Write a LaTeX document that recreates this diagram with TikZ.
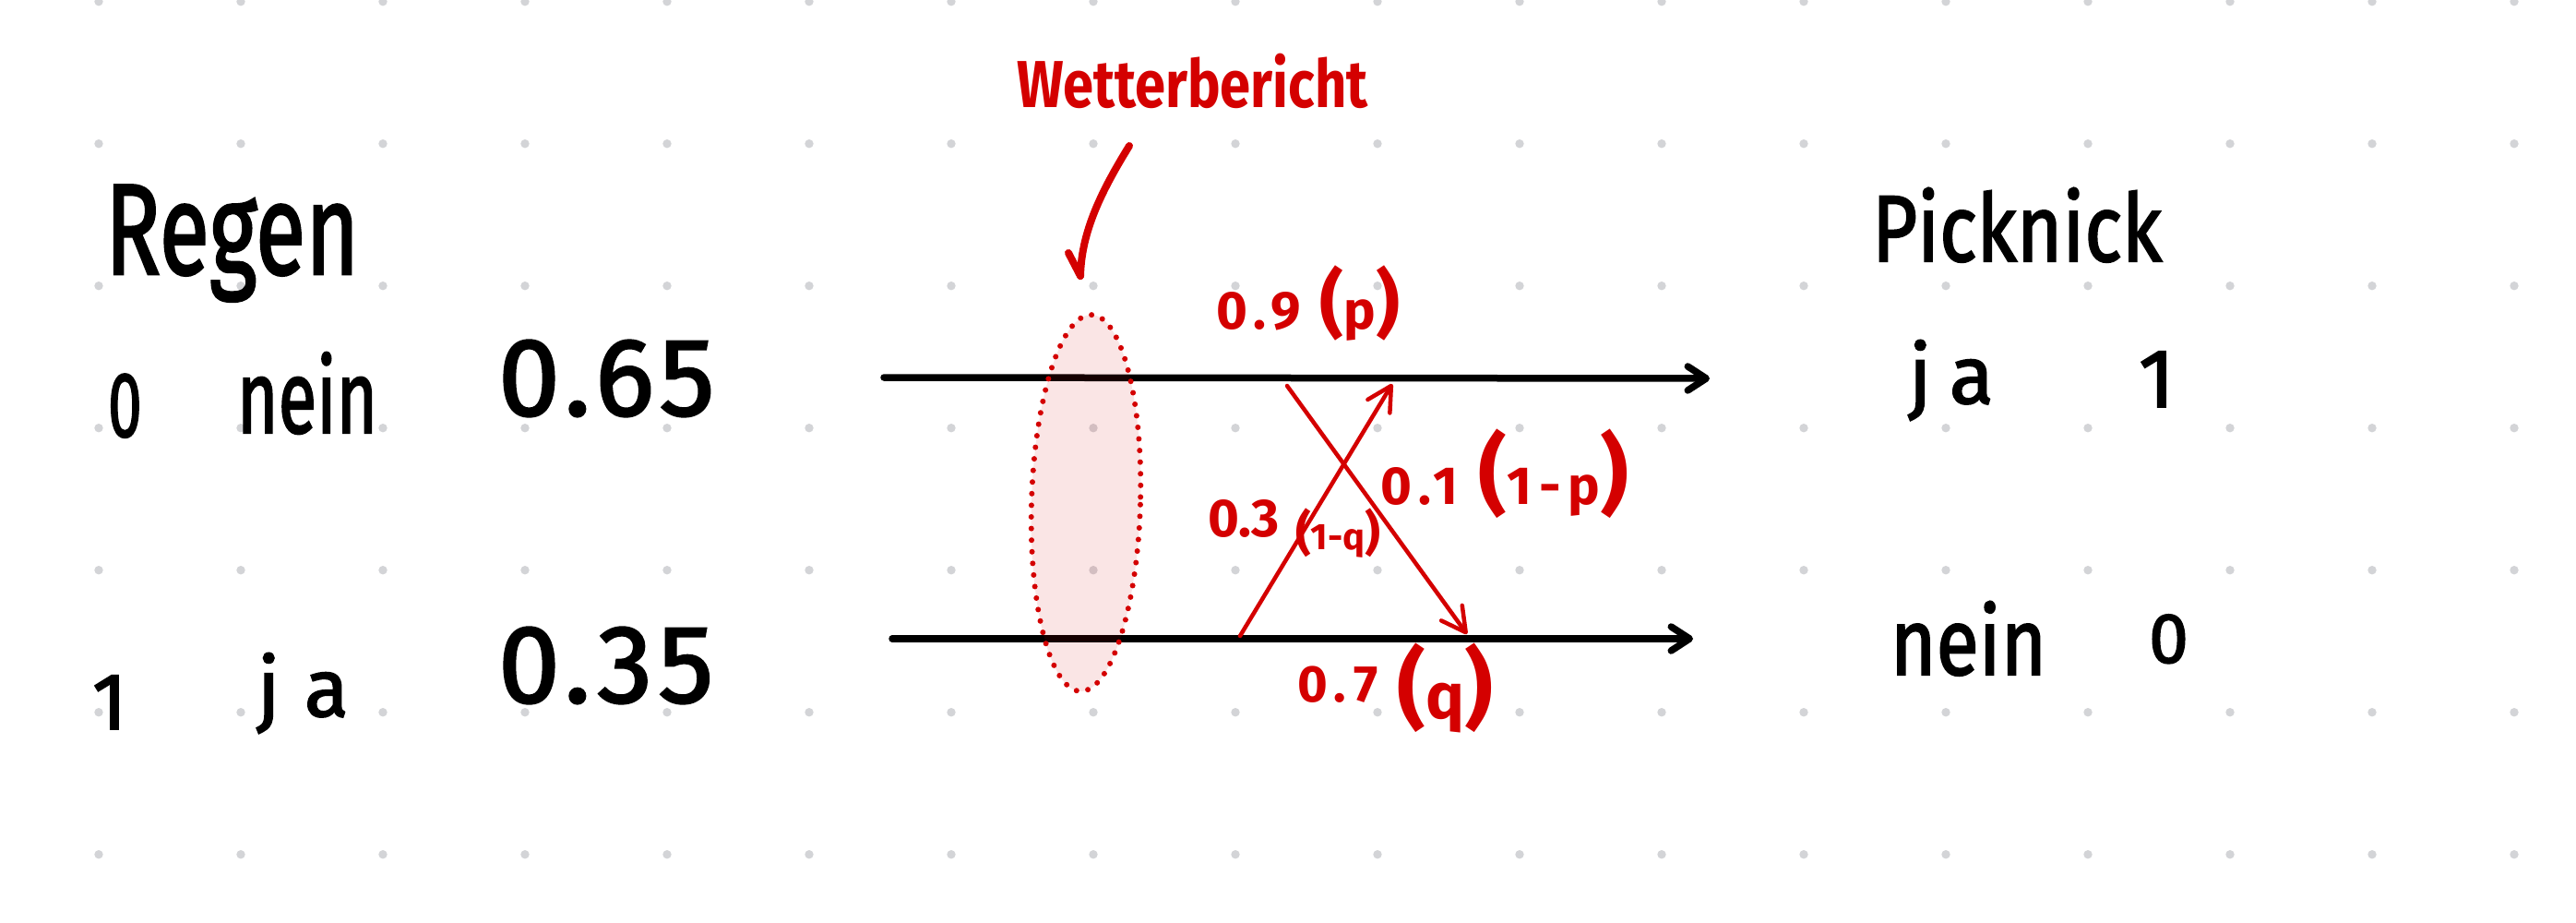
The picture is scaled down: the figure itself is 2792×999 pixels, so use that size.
\documentclass[tikz,border=0pt]{standalone}
\usepackage{fontspec}
\setmainfont{Fira Sans}
\newfontfamily\hand{Fira Sans}[FakeBold=2]
\usepackage{graphicx}
\usetikzlibrary{arrows.meta}
\definecolor{mred}{RGB}{212,0,0}
\definecolor{dotgray}{RGB}{211,212,215}
\newcommand\fsz[1]{\fontsize{#1}{#1}\selectfont}
\newcommand\lsp[1]{\addfontfeature{LetterSpace=#1}}
\newcommand\bigpar[2]{{\fsz{#1}#2}}
\begin{document}
\begin{tikzpicture}[x=1pt,y=-1pt,
  hw/.style={inner sep=0pt, outer sep=0pt, anchor=base west},
  blk/.style={hw, text=black},
  rd/.style={hw, text=mred},
  flow/.style={line width=7.5pt, line cap=round, -{Straight Barb[length=20pt,width=26pt,round]}},
  redarrow/.style={draw=mred, line width=4.5pt, line cap=round, -{Straight Barb[length=26pt,width=28pt,round]}},
  redstroke/.style={draw=mred, line width=8pt, line cap=round, line join=round},
  ovalstyle/.style={draw=mred, fill=mred, fill opacity=0.1, line width=6pt, dash pattern=on 0pt off 12.6pt, line cap=round},
]
\fill[white] (0,0) rectangle (2792,999);
\useasboundingbox (0,0) rectangle (2792,999);
% dot grid
\foreach \i in {0,...,17} \foreach \j in {0,...,6}
  \fill[dotgray] ({107+154*\i},{1.7+154*\j}) circle[radius=4.7];

% black flow lines
\coordinate (ts) at (958,409); \coordinate (te) at (1853,410);
\coordinate (bs) at (967,692); \coordinate (be) at (1835,692);
\draw[flow] (ts) -- (te);
\draw[flow] (bs) -- (be);

% weather report oval
\path[ovalstyle, rotate around={-1.7:(1177,545)}] (1177,545) ellipse[x radius=59, y radius=204];

% Wetterbericht pointer
\coordinate (ws) at (1224,158); \coordinate (wt) at (1171,299);
\draw[redstroke] (ws) .. controls (1195,205) and (1172,250) .. (wt);
\draw[redstroke] (wt) -- ++(-13,-25);

% crossing red arrows
\coordinate (as) at (1395,418); \coordinate (ae) at (1590,687);
\coordinate (cs) at (1344,689); \coordinate (ce) at (1509,416);
\draw[redarrow] (as) -- (ae);
\draw[redarrow] (cs) -- (ce);

% black texts
\node[blk, font=\hand\fsz{140}] (regen) at (114,297) {\scalebox{0.71}[1]{Regen}};
\node[blk, font=\hand\fsz{100}] (z0) at (117,473) {\scalebox{0.66}[1]{0}};
\node[blk, font=\hand\fsz{112}] (nein1) at (257,469) {\scalebox{0.68}[1]{nein}};
\node[blk, font=\hand\fsz{120}\lsp{5}] (p65) at (540,450) {0.65};
\node[blk, font=\hand\fsz{87}] (o1) at (100,790) {1};
\node[blk, font=\hand\fsz{88}\lsp{30}] (ja1) at (279,776) {ja};
\node[blk, font=\hand\fsz{120}\lsp{5}] (p35) at (540,761) {0.35};
\node[blk, font=\hand\fsz{102}] (pick) at (2029,283) {\scalebox{0.83}[1]{Picknick}};
\node[blk, font=\hand\fsz{88}\lsp{22}] (ja2) at (2069,437) {ja};
\node[blk, font=\hand\fsz{90}] (o2) at (2318,441) {1};
\node[blk, font=\hand\fsz{102}] (nein2) at (2049,731) {\scalebox{0.83}[1]{nein}};
\node[blk, font=\hand\fsz{77}] (z2) at (2329,718) {0};

% red texts
\node[rd, font=\bfseries\fsz{72}] (wb) at (1102,116) {\scalebox{0.83}[1]{Wetterbericht}};
\node[rd, font=\bfseries\fsz{58}\lsp{12}] (lp) at (1318,356) {0.9 \bigpar{80}{(}p\bigpar{80}{)}};
\node[rd, font=\bfseries\fsz{58}\lsp{14}] (l1p) at (1496,546) {0.1 \bigpar{95}{(}1-p\bigpar{95}{)}};
\node[rd, font=\bfseries\fsz{58}] (l03) at (1309,581) {0.3};
\node[rd, font=\bfseries\fsz{40}] (l1q) at (1404,595) {\bigpar{52}{(}1-q\bigpar{52}{)}};
\node[rd, font=\bfseries\fsz{56}\lsp{14}] (lq) at (1406,760) {0.7 \raisebox{-18pt}{\bigpar{95}{(}\fsz{70}q\bigpar{95}{)}}};
\end{tikzpicture}
\end{document}
